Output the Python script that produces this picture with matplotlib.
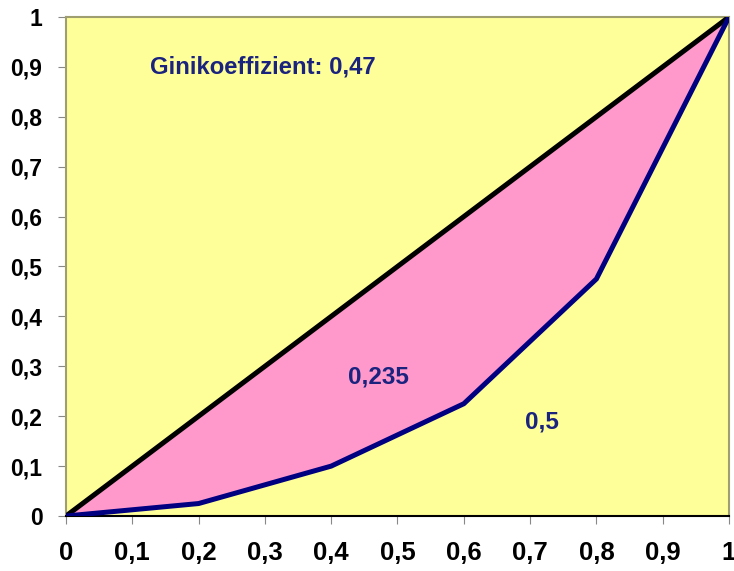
import numpy as np
import matplotlib
matplotlib.use("Agg")
import matplotlib.pyplot as plt
from matplotlib.ticker import FuncFormatter

# Lorenz curve points
pop_share = [0, 0.2, 0.4, 0.6, 0.8, 1.0]
income_share = [0, 0.025, 0.1, 0.225, 0.475, 1.0]
gini_label = "Ginikoeffizient: 0,47"
area_between = "0,235"
area_below = "0,5"

ticks = np.round(np.arange(0, 1.01, 0.1), 1)

plt.rcParams['font.family'] = ['Liberation Sans', 'DejaVu Sans']

fig = plt.figure(figsize=(7.34, 5.71), dpi=100)
ax = fig.add_axes([0.0899, 0.0963, 0.9033, 0.8740])
ax.set_facecolor('#FFFF99')

# pink area between equality line and Lorenz curve
ax.fill_between(pop_share, pop_share, income_share, color='#FF99CC', lw=0)
ax.plot([0, 1], [0, 1], color='black', lw=3.6, solid_capstyle='round', zorder=3)
ax.plot(pop_share, income_share, color='#000080', lw=3.6, solid_joinstyle='miter', zorder=3)

ax.set_xlim(0, 1)
ax.set_ylim(0, 1)

fmt = FuncFormatter(lambda v, p: ('%g' % round(v, 1)).replace('.', ','))
ax.set_xticks(ticks)
ax.set_yticks(ticks)
ax.xaxis.set_major_formatter(fmt)
ax.yaxis.set_major_formatter(fmt)
ax.tick_params(axis='x', length=6, color='#888888', labelsize=18.5, pad=12)
ax.tick_params(axis='y', length=6, color='#888888', labelsize=16.5, pad=11)
for lab in ax.get_xticklabels() + ax.get_yticklabels():
    lab.set_fontweight('bold')

for side in ['left', 'top', 'right']:
    ax.spines[side].set_color('#9E9E70')
    ax.spines[side].set_linewidth(1.5)
ax.spines['bottom'].set_color('black')
ax.spines['bottom'].set_linewidth(1.5)

ax.text(0.297, 0.9, gini_label, color='#1A237E', fontsize=17.2,
        fontweight='bold', ha='center', va='center')
ax.text(0.472, 0.278, area_between, color='#1A237E', fontsize=17.5,
        fontweight='bold', ha='center', va='center')
ax.text(0.718, 0.188, area_below, color='#1A237E', fontsize=17.5,
        fontweight='bold', ha='center', va='center')

fig.savefig('out.png', dpi=100)
